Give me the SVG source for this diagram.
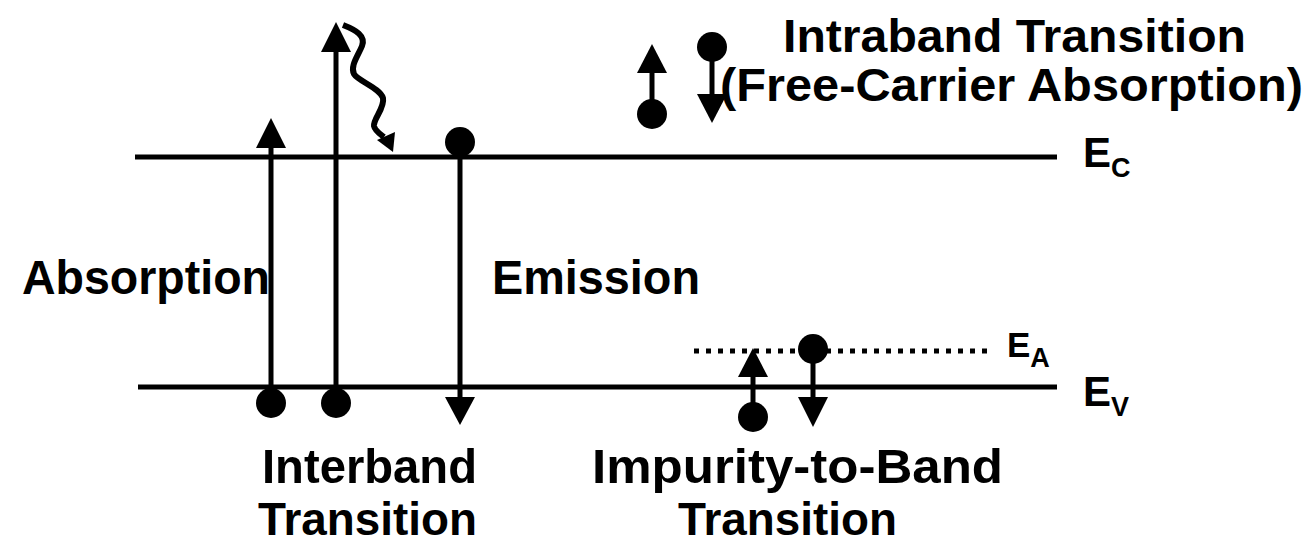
<svg xmlns="http://www.w3.org/2000/svg" width="1310" height="543" viewBox="0 0 1310 543">
<style>
.lvl{stroke:#000;stroke-width:5;fill:none}
.dot{stroke:#000;stroke-width:5;fill:none;stroke-dasharray:5 7}
.ln{stroke:#000;stroke-width:5;fill:none}
.wv{stroke:#000;stroke-width:6;fill:none;stroke-linejoin:round}
.e{fill:#000}
.hd{fill:#000}
text{font-family:"Liberation Sans",Arial,sans-serif;font-weight:bold;fill:#000}
.lab{font-size:49px}
.top{font-size:47px}
.bot{font-size:47px}
.big{font-size:42px}
.sub{font-size:27px}
.ea{font-size:35px}
</style>
<rect width="1310" height="543" fill="#fff"/>
<g id="levels">
<g id="Ec"><line class="lvl" x1="135" y1="157" x2="1057" y2="157"/><text class="big" x="1083" y="167">E<tspan class="sub" dy="10">C</tspan></text></g>
<g id="Ev"><line class="lvl" x1="138" y1="387" x2="1057" y2="387"/><text class="big" x="1083" y="406">E<tspan class="sub" dy="10">V</tspan></text></g>
<g id="Ea"><line class="dot" x1="694" y1="351" x2="990" y2="351"/><text class="ea" x="1007" y="357">E<tspan class="sub" dy="10">A</tspan></text></g>
</g>
<g id="connectors">
<g id="abs1"><line class="ln" x1="271" y1="403" x2="271" y2="146"/><polygon class="hd" points="256,148 286,148 271,118"/></g>
<g id="abs2"><line class="ln" x1="336" y1="403" x2="336" y2="50"/><polygon class="hd" points="321,52 351,52 336,22"/></g>
<g id="photon"><path class="wv" d="M343,25 C356,30 366,36 362,46 C358,56 350,66 354,74 C358,81 380,88 383,98 C385,108 373,119 374,126 C375,131 380,134 384,137"/><polygon class="hd" points="377,140 395,132 393,152"/></g>
<g id="emis"><line class="ln" x1="460" y1="142" x2="460" y2="399"/><polygon class="hd" points="445,397 475,397 460,425"/></g>
<g id="intra-up"><line class="ln" x1="652" y1="114" x2="652" y2="71"/><polygon class="hd" points="637,73 667,73 652,44"/></g>
<g id="intra-down"><line class="ln" x1="712" y1="47" x2="712" y2="96"/><polygon class="hd" points="697,94 727,94 712,123"/></g>
<g id="imp-up"><line class="ln" x1="753" y1="417" x2="753" y2="375"/><polygon class="hd" points="738,377 768,377 753,348"/></g>
<g id="imp-down"><line class="ln" x1="813" y1="349" x2="813" y2="399"/><polygon class="hd" points="798,397 828,397 813,427"/></g>
</g>
<g id="electrons">
<circle class="e" cx="271" cy="403" r="15"/>
<circle class="e" cx="336" cy="403" r="15"/>
<circle class="e" cx="460" cy="142" r="15"/>
<circle class="e" cx="652" cy="114" r="15"/>
<circle class="e" cx="712" cy="47" r="15"/>
<circle class="e" cx="753" cy="417" r="15"/>
<circle class="e" cx="813" cy="349" r="15"/>
</g>
<g id="labels">
<g id="lab-intra"><text class="top" x="783" y="52" textLength="463" lengthAdjust="spacingAndGlyphs">Intraband Transition</text><text class="top" x="720" y="101" textLength="583" lengthAdjust="spacingAndGlyphs">(Free-Carrier Absorption)</text></g>
<g id="lab-abs"><text class="lab" x="22" y="294" textLength="248" lengthAdjust="spacingAndGlyphs">Absorption</text></g>
<g id="lab-emis"><text class="lab" x="492" y="294" textLength="208" lengthAdjust="spacingAndGlyphs">Emission</text></g>
<g id="lab-inter"><text class="lab" x="262" y="483" textLength="215" lengthAdjust="spacingAndGlyphs">Interband</text><text class="bot" x="258" y="535" textLength="219" lengthAdjust="spacingAndGlyphs">Transition</text></g>
<g id="lab-imp"><text class="lab" x="592" y="483" textLength="411" lengthAdjust="spacingAndGlyphs">Impurity-to-Band</text><text class="bot" x="678" y="535" textLength="219" lengthAdjust="spacingAndGlyphs">Transition</text></g>
</g>
</svg>
